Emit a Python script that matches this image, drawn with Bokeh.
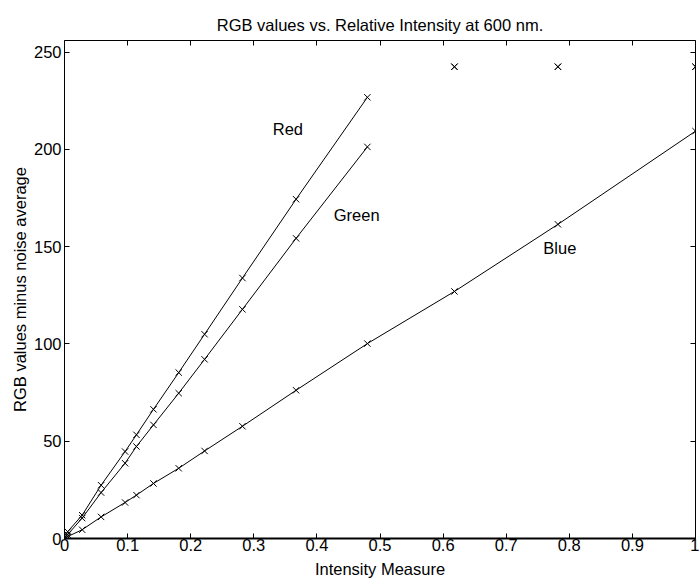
from bokeh.plotting import figure
from bokeh.models import LinearAxis, Range1d, FixedTicker, Label
from bokeh.embed import file_html
from bokeh.resources import INLINE

# ---- data ----
intensity = [0.005, 0.028, 0.058, 0.096, 0.114, 0.141, 0.181, 0.222, 0.282, 0.367, 0.480]
red = [3.5, 12.0, 27.4, 44.7, 53.3, 66.4, 85.3, 105.0, 133.9, 174.4, 226.8]
green = [2.0, 10.5, 23.6, 38.7, 47.3, 58.4, 74.7, 92.1, 117.8, 154.3, 201.3]

blue_intensity = [0.005, 0.028, 0.058, 0.096, 0.114, 0.141, 0.181, 0.222, 0.282, 0.367, 0.480, 0.618, 0.782, 1.0]
blue = [1.0, 4.5, 11.1, 18.5, 22.3, 28.3, 36.1, 45.0, 57.7, 76.2, 100.2, 127.0, 161.5, 209.4]

sat_intensity = [0.618, 0.782, 1.0]
saturated = [242.5, 242.5, 242.5]

origin_x = [0.0]
origin_y = [0.0]

x_ticks = [0, 0.1, 0.2, 0.3, 0.4, 0.5, 0.6, 0.7, 0.8, 0.9, 1.0]
x_tick_labels = ["0", "0.1", "0.2", "0.3", "0.4", "0.5", "0.6", "0.7", "0.8", "0.9", "1"]
y_ticks = [0, 50, 100, 150, 200, 250]

labels = ["Red", "Green", "Blue"]
label_x = [0.354, 0.463, 0.785]
label_y = [210.5, 166.5, 149.5]

title = "RGB values vs. Relative Intensity at 600 nm."
FONT = "Liberation Sans"
FS = "16.5px"

p = figure(width=699, height=584, output_backend="svg", toolbar_location=None,
           x_range=Range1d(0, 1), y_range=Range1d(0, 256),
           x_axis_location=None, y_axis_location=None,
           min_border_left=64, min_border_right=4, min_border_top=40, min_border_bottom=46)
p.title.text = title
p.title.align = "center"
p.title.text_font = FONT
p.title.text_font_size = FS
p.title.text_font_style = "normal"
p.title.text_color = "black"
p.title.standoff = 14
p.grid.visible = False
p.outline_line_color = None
p.background_fill_color = "white"
p.border_fill_color = "white"

def make_axis(kind, loc, show_labels):
    ax = LinearAxis()
    ticks = x_ticks if kind == "x" else y_ticks
    if show_labels:
        ax.ticker = FixedTicker(ticks=ticks)
        if kind == "x":
            ax.major_label_overrides = {t: s for t, s in zip(x_ticks, x_tick_labels)}
        ax.minor_tick_line_color = None
        ax.major_tick_in = 5
        ax.major_tick_out = 0
    else:
        # ticks only (drawn as minor ticks), no labels
        ax.ticker = FixedTicker(ticks=[], minor_ticks=ticks)
        ax.minor_tick_in = 5
        ax.minor_tick_out = 0
        ax.minor_tick_line_color = "black"
    ax.axis_line_color = "black"
    ax.major_tick_line_color = "black"
    ax.axis_line_width = 1
    ax.major_label_text_font = FONT
    ax.major_label_text_font_size = FS
    ax.major_label_text_color = "black"
    ax.major_label_standoff = 2
    ax.axis_label_text_font = FONT
    ax.axis_label_text_font_size = FS
    ax.axis_label_text_font_style = "normal"
    ax.axis_label_text_color = "black"
    ax.axis_label_standoff = 2
    p.add_layout(ax, loc)
    return ax

xb = make_axis("x", "below", True)
xb.axis_label = "Intensity Measure"
xb.axis_line_width = 2
xb.major_label_standoff = 0
xb.axis_label_standoff = 6
yl = make_axis("y", "left", True)
yl.axis_label = "RGB values minus noise average"
yl.major_label_standoff = 3
make_axis("x", "above", False)
make_axis("y", "right", False)

lc = "black"
p.line(origin_x + intensity, origin_y + red, line_color=lc, line_width=1)
p.line(origin_x + intensity, origin_y + green, line_color=lc, line_width=1)
p.line(origin_x + blue_intensity, origin_y + blue, line_color=lc, line_width=1)

for xs, ys in [(intensity, red), (intensity, green), (blue_intensity, blue), (sat_intensity, saturated), (sat_intensity, saturated)]:
    p.scatter(xs, ys, marker="x", size=9, line_color="black", line_width=1)

for t, x, y in zip(labels, label_x, label_y):
    p.add_layout(Label(x=x, y=y, text=t, text_font=FONT, text_font_size=FS,
                       text_color="black", text_align="center", text_baseline="middle"))

open("out.html", "w").write(file_html(p, INLINE))
